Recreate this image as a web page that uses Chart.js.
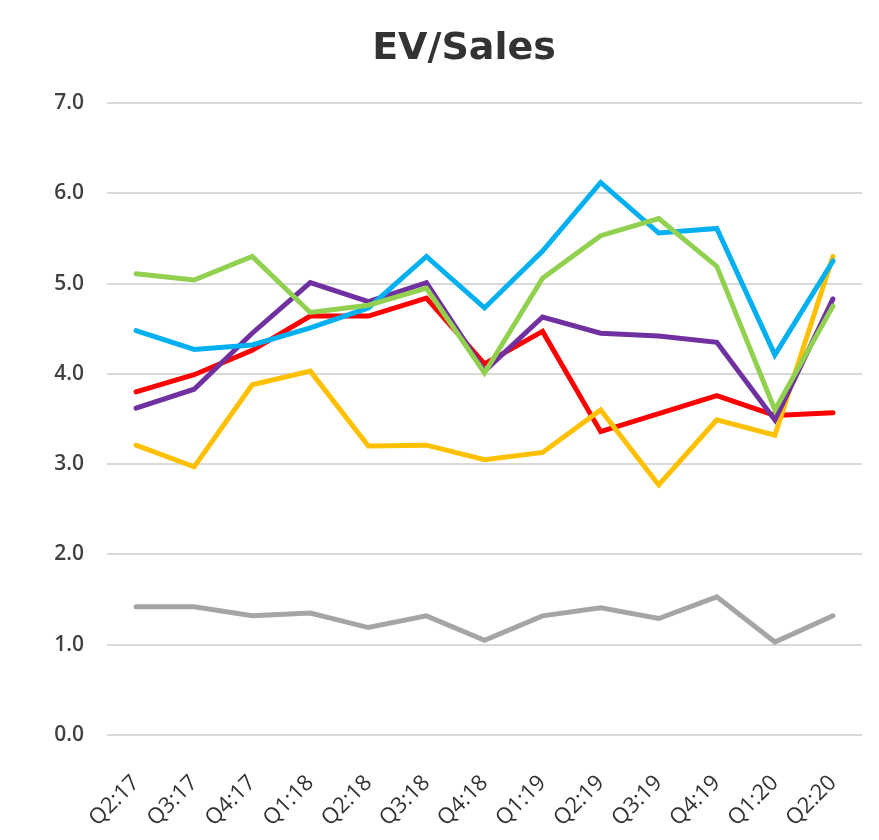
<!DOCTYPE html>
<html><head><meta charset="utf-8">
<script src="https://cdn.jsdelivr.net/npm/chart.js@4"></script>
<style>html,body{margin:0;padding:0;background:#fff}#wrap{width:879px;height:840px}</style>
</head><body><div id="wrap"><canvas id="c"></canvas></div>
<script>
const categories = ["Q2:17","Q3:17","Q4:17","Q1:18","Q2:18","Q3:18","Q4:18","Q1:19","Q2:19","Q3:19","Q4:19","Q1:20","Q2:20"];
const grayValues   = [1.42,1.42,1.32,1.35,1.19,1.32,1.05,1.32,1.41,1.29,1.53,1.03,1.32];
const greenValues  = [5.11,5.04,5.30,4.68,4.76,4.95,4.01,5.06,5.53,5.72,5.19,3.60,4.75];
const blueValues   = [4.48,4.27,4.32,4.51,4.73,5.30,4.73,5.36,6.12,5.56,5.61,4.21,5.25];
const purpleValues = [3.62,3.83,4.45,5.01,4.80,5.01,4.03,4.63,4.45,4.42,4.35,3.49,4.83];
const yellowValues = [3.21,2.97,3.88,4.03,3.20,3.21,3.05,3.13,3.60,2.77,3.49,3.32,5.30];
const redValues    = [3.80,3.99,4.26,4.64,4.64,4.84,4.11,4.47,3.36,3.56,3.76,3.54,3.57];
const yTicks = [0,1,2,3,4,5,6,7];

function ds(data, color){
  return {data, borderColor:color, backgroundColor:color, borderWidth:5, pointRadius:0, tension:0, fill:false, borderCapStyle:'round', borderJoinStyle:'miter', yAxisID:'y'};
}
new Chart(document.getElementById('c'), {
  type:'line',
  data:{labels:categories, datasets:[
    ds(grayValues,'#A5A5A5'),
    ds(greenValues,'#92D050'),
    ds(blueValues,'#00B0F0'),
    ds(purpleValues,'#7030A0'),
    ds(yellowValues,'#FFC000'),
    ds(redValues,'#FF0000')
  ]},
  options:{
    responsive:true, maintainAspectRatio:false, animation:false,
    layout:{padding:{left:50,right:1,top:0,bottom:0}},
    plugins:{
      legend:{display:false}, tooltip:{enabled:false},
      title:{display:true, text:'EV/Sales', color:'#333333',
        font:{family:'DejaVu Sans', size:38, weight:'bold'}, padding:{top:26.7,bottom:30.7}}
    },
    scales:{
      x:{offset:true, grid:{display:false, drawTicks:false}, border:{display:false},
        ticks:{color:'#333333', font:{family:'Open Sans', size:22}, maxRotation:45, minRotation:45, padding:35, autoSkip:false},
        afterFit:(s)=>{s.height=105; s.paddingLeft=0; s.paddingRight=0;}},
      y:{position:'left', min:0,max:7, afterBuildTicks:(s)=>{s.ticks=yTicks.map(v=>({value:v}));},
        grid:{color:'#D9D9D9', lineWidth:2, drawTicks:false}, border:{display:false},
        ticks:{color:'#404040', font:{family:'Open Sans', size:21, weight:'600'}, padding:23, callback:(v)=>v.toFixed(1)},
        afterFit:(s)=>{s.width=57;}},
      yr:{position:'right', min:0, max:1, grid:{display:false, drawTicks:false}, border:{display:false},
        ticks:{display:false}, afterFit:(s)=>{s.width=16;}}
    }
  }
});
</script></body></html>
